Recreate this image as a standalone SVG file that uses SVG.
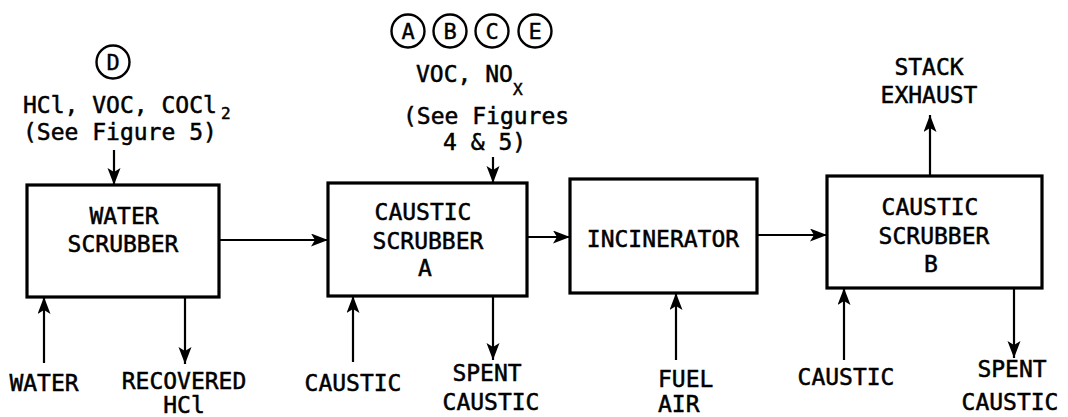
<svg xmlns="http://www.w3.org/2000/svg" width="1068" height="417" viewBox="0 0 1068 417">
<style>
.t{font-family:"DejaVu Sans Mono","Liberation Mono",monospace;font-size:23px;fill:#000;stroke:#000;stroke-width:0.5}
.m{text-anchor:middle}
.sub{font-size:16px}
.box{fill:#fff;stroke:#000;stroke-width:3.2}
.ln{fill:none;stroke:#000;stroke-width:2.2}
.c{fill:none;stroke:#000;stroke-width:2.4}
.cl{font-family:"DejaVu Sans Mono","Liberation Mono",monospace;font-size:22px;text-anchor:middle;fill:#000;stroke:#000;stroke-width:0.4}
</style>
<defs>
<marker id="ah" markerUnits="userSpaceOnUse" markerWidth="20" markerHeight="14" refX="17" refY="6.5" orient="auto">
<path d="M0,0 L17,6.5 L0,13 L4,6.5 Z" fill="#000"/>
</marker>
</defs>
<rect width="1068" height="417" fill="#fff"/>

<g id="connectors">
<line class="ln" x1="219" y1="240" x2="328" y2="240" marker-end="url(#ah)"/>
<line class="ln" x1="527" y1="237" x2="570" y2="237" marker-end="url(#ah)"/>
<line class="ln" x1="757" y1="235" x2="827" y2="235" marker-end="url(#ah)"/>
<line class="ln" x1="930" y1="176" x2="930" y2="115" marker-end="url(#ah)"/>
<line class="ln" x1="114" y1="150" x2="114" y2="185" marker-end="url(#ah)"/>
<line class="ln" x1="493" y1="157" x2="493" y2="183" marker-end="url(#ah)"/>
<line class="ln" x1="44" y1="363" x2="44" y2="297" marker-end="url(#ah)"/>
<line class="ln" x1="185" y1="297" x2="185" y2="364" marker-end="url(#ah)"/>
<line class="ln" x1="353" y1="362" x2="353" y2="296" marker-end="url(#ah)"/>
<line class="ln" x1="493" y1="296" x2="493" y2="360" marker-end="url(#ah)"/>
<line class="ln" x1="676" y1="360" x2="676" y2="293" marker-end="url(#ah)"/>
<line class="ln" x1="844" y1="360" x2="844" y2="288" marker-end="url(#ah)"/>
<line class="ln" x1="1014" y1="288" x2="1014" y2="358" marker-end="url(#ah)"/>
</g>

<g id="water-scrubber">
<rect class="box" x="27" y="185" width="192" height="112"/>
<text class="t m" x="124" y="224">WATER</text>
<text class="t m" x="123" y="252">SCRUBBER</text>
</g>

<g id="caustic-scrubber-a">
<rect class="box" x="328" y="183" width="199" height="113"/>
<text class="t m" x="423" y="220">CAUSTIC</text>
<text class="t m" x="428" y="249">SCRUBBER</text>
<text class="t m" x="425" y="276">A</text>
</g>

<g id="incinerator">
<rect class="box" x="570" y="179" width="187" height="114"/>
<text class="t m" x="663" y="247">INCINERATOR</text>
</g>

<g id="caustic-scrubber-b">
<rect class="box" x="827" y="176" width="215" height="112"/>
<text class="t m" x="930" y="215">CAUSTIC</text>
<text class="t m" x="934" y="244">SCRUBBER</text>
<text class="t m" x="931" y="272">B</text>
</g>

<g id="stack-exhaust">
<text class="t m" x="929" y="75">STACK</text>
<text class="t m" x="929" y="103">EXHAUST</text>
</g>

<g id="input-d">
<circle class="c" cx="113" cy="62" r="16.5"/>
<text class="cl" x="113" y="70">D</text>
<text class="t" x="23" y="113">HCl, VOC, COCl<tspan class="sub" x="221" y="119">2</tspan></text>
<text class="t" x="23" y="140">(See Figure 5)</text>
</g>

<g id="input-abce">
<circle class="c" cx="408" cy="31" r="16.5"/>
<text class="cl" x="408" y="39">A</text>
<circle class="c" cx="450" cy="31" r="16.5"/>
<text class="cl" x="450" y="39">B</text>
<circle class="c" cx="492" cy="31" r="16.5"/>
<text class="cl" x="492" y="39">C</text>
<circle class="c" cx="535" cy="31" r="16.5"/>
<text class="cl" x="535" y="39">E</text>
<text class="t" x="416" y="82">VOC, NO<tspan class="sub" x="513" y="95">X</tspan></text>
<text class="t" x="403" y="124">(See Figures</text>
<text class="t" x="443" y="150">4 &amp; 5)</text>
</g>

<g id="water">
<text class="t m" x="44" y="391">WATER</text>
</g>
<g id="recovered-hcl">
<text class="t m" x="184" y="389">RECOVERED</text>
<text class="t m" x="184" y="413">HCl</text>
</g>
<g id="caustic-a-in">
<text class="t m" x="353" y="391">CAUSTIC</text>
</g>
<g id="spent-caustic-a">
<text class="t m" x="487" y="381">SPENT</text>
<text class="t m" x="491" y="410">CAUSTIC</text>
</g>
<g id="fuel-air">
<text class="t" x="658" y="387">FUEL</text>
<text class="t" x="658" y="412">AIR</text>
</g>
<g id="caustic-b-in">
<text class="t m" x="846" y="385">CAUSTIC</text>
</g>
<g id="spent-caustic-b">
<text class="t m" x="1012" y="377">SPENT</text>
<text class="t m" x="1010" y="410">CAUSTIC</text>
</g>
</svg>
